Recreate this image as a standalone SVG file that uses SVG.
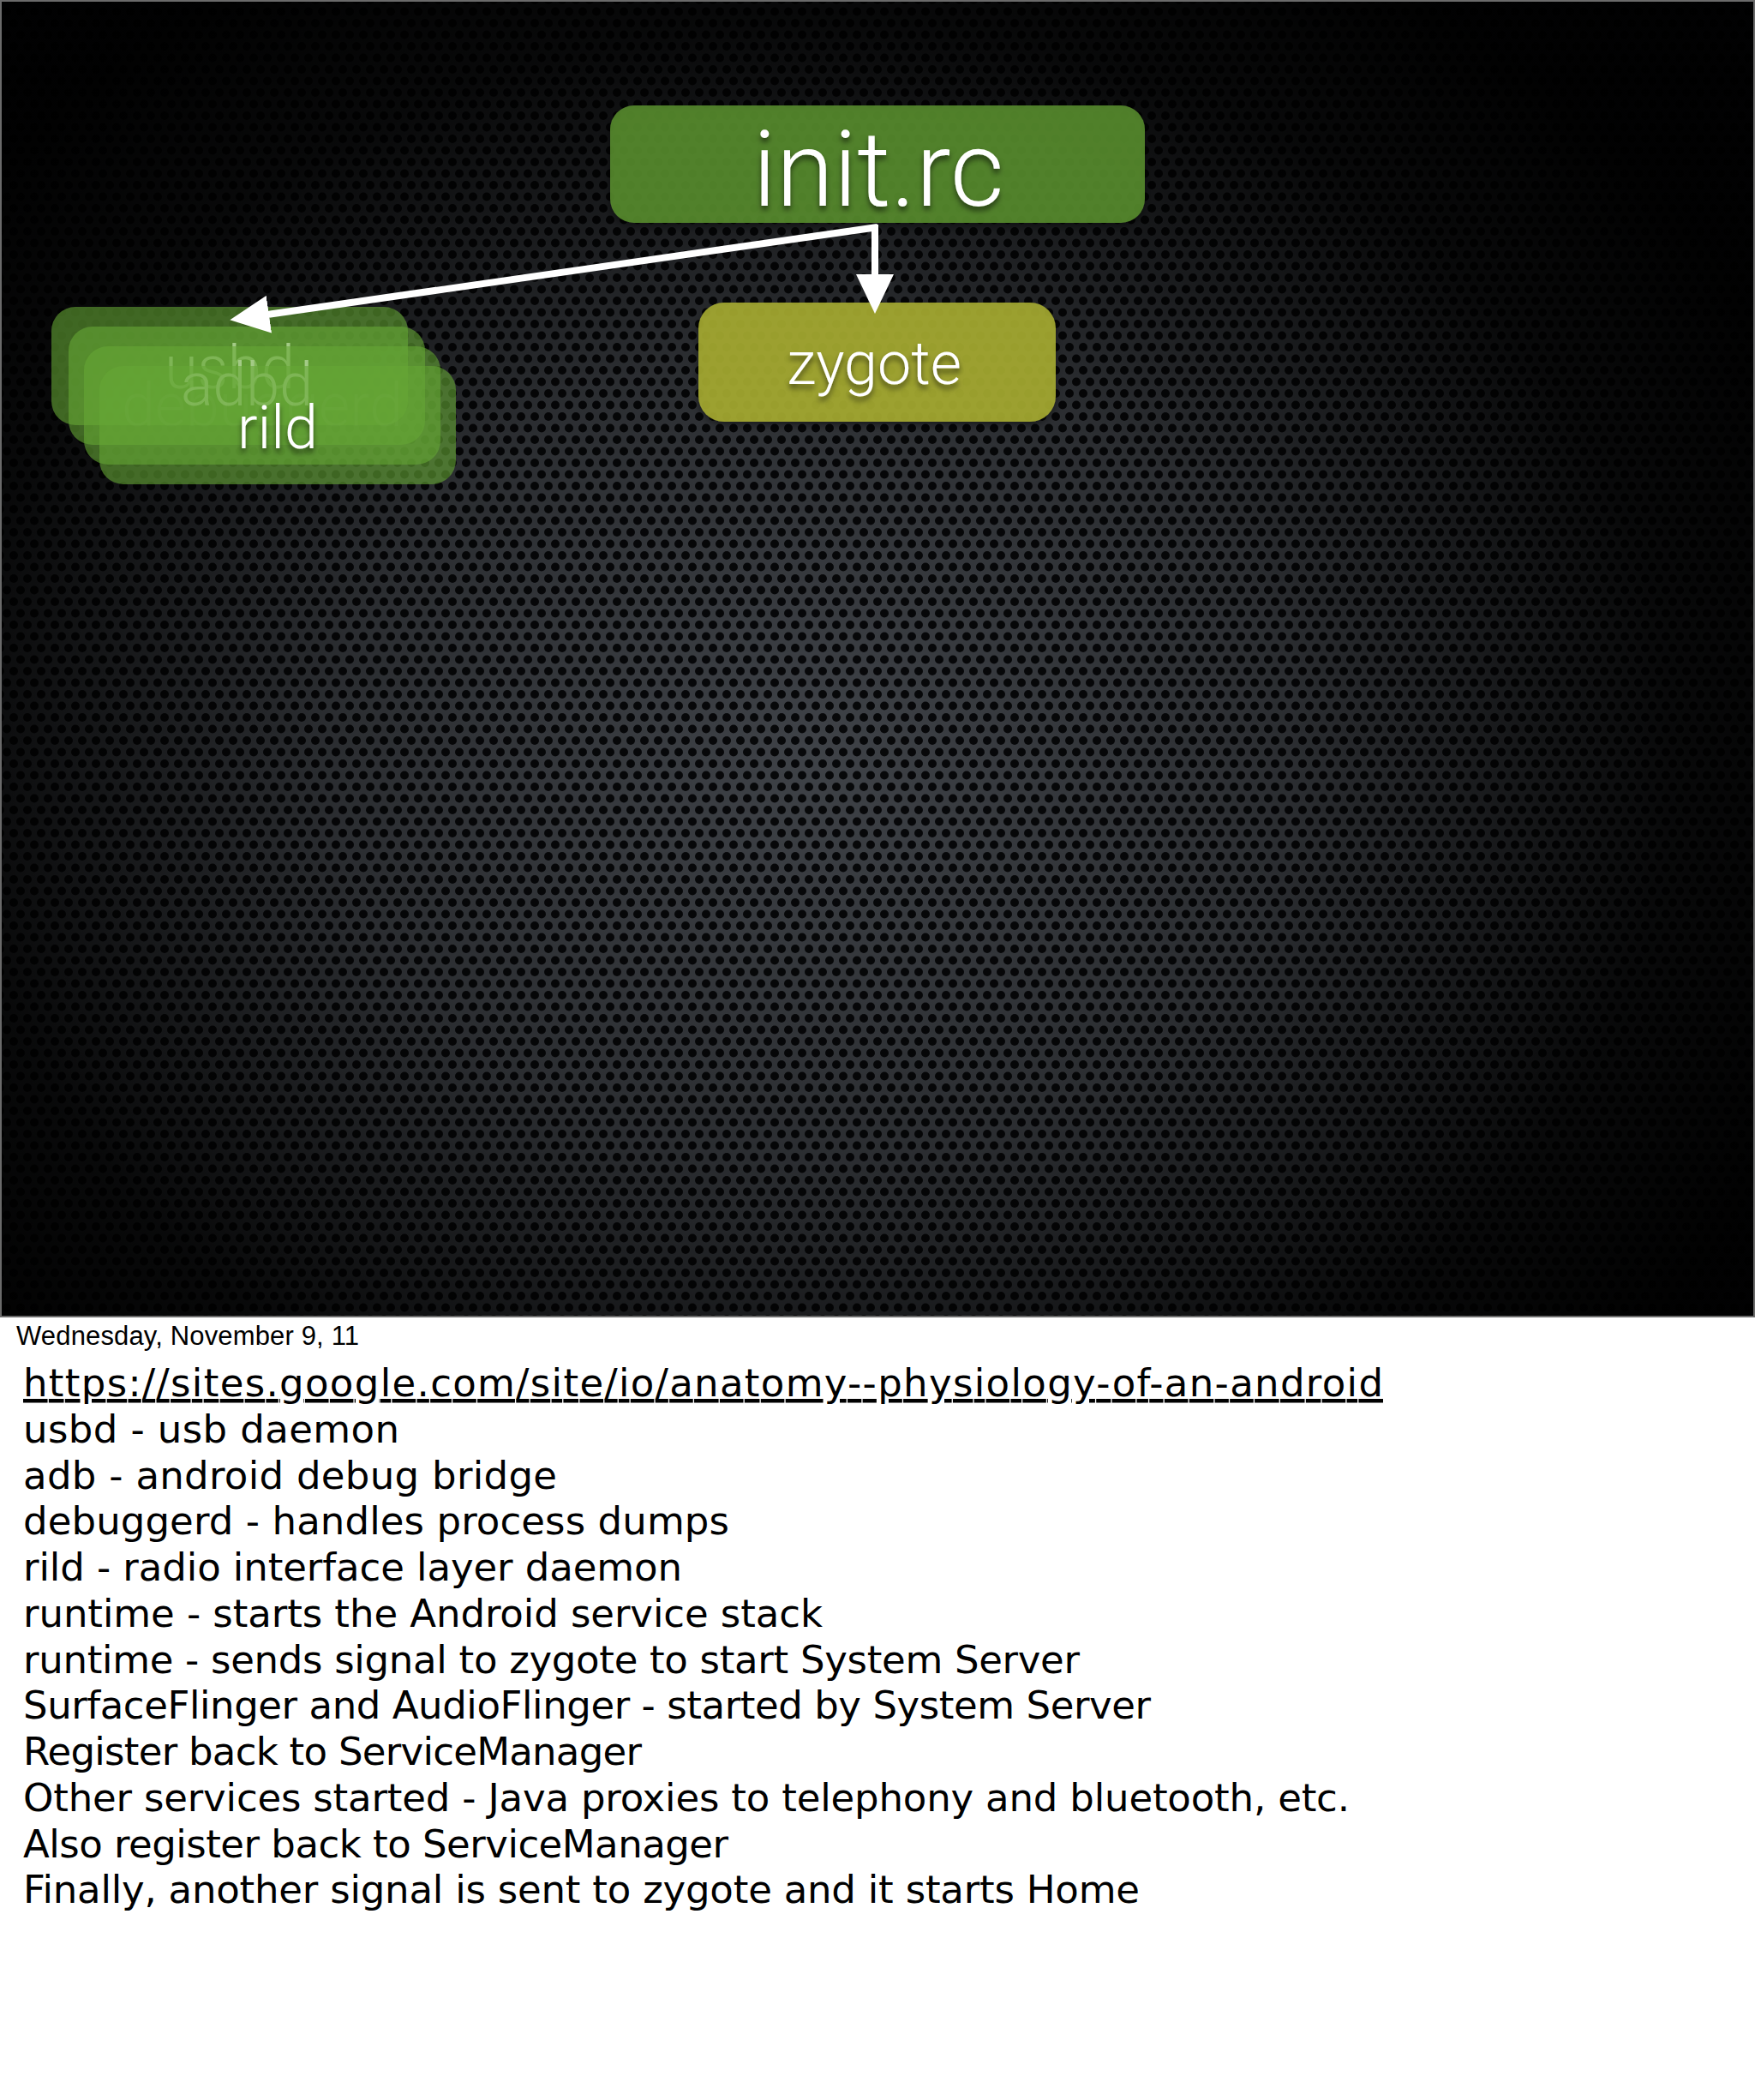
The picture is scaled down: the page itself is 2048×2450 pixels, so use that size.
<svg xmlns="http://www.w3.org/2000/svg" width="2048" height="2450" viewBox="0 0 2048 2450">
  <style>
    .node-label { font-family: Roboto, "Liberation Sans", sans-serif; font-weight: 300; fill: #ffffff; text-anchor: middle; }
    .note { font-family: "DejaVu Sans", sans-serif; font-size: 45px; fill: #000000; }
    .date { font-family: "Liberation Sans", Arial, sans-serif; font-size: 31px; fill: #000000; }
    .conn { stroke: #ffffff; stroke-width: 8; fill: none; stroke-linejoin: miter; }
    .svc { fill: #66a735; fill-opacity: 0.6; }
  </style>
  <defs>
    <pattern id="mesh" width="16" height="27" patternUnits="userSpaceOnUse">
      <rect width="16" height="27" fill="#474b51"/>
      <circle cx="0" cy="0" r="5" fill="#08090b"/>
      <circle cx="16" cy="0" r="5" fill="#08090b"/>
      <circle cx="0" cy="27" r="5" fill="#08090b"/>
      <circle cx="16" cy="27" r="5" fill="#08090b"/>
      <circle cx="8" cy="13.5" r="5" fill="#08090b"/>
    </pattern>
    <radialGradient id="vignette" gradientUnits="userSpaceOnUse" cx="950" cy="880" r="1250" gradientTransform="translate(950 880) scale(1 0.85) translate(-950 -880)">
      <stop offset="0" stop-color="#000" stop-opacity="0.12"/>
      <stop offset="0.45" stop-color="#000" stop-opacity="0.4"/>
      <stop offset="0.8" stop-color="#000" stop-opacity="0.88"/>
      <stop offset="1" stop-color="#000" stop-opacity="0.98"/>
    </radialGradient>
    <filter id="tshadow" x="-20%" y="-20%" width="140%" height="160%">
      <feDropShadow dx="0" dy="5" stdDeviation="3" flood-color="#000" flood-opacity="0.55"/>
    </filter>
    <filter id="bshadow" x="-10%" y="-10%" width="120%" height="140%">
      <feDropShadow dx="0" dy="4" stdDeviation="4" flood-color="#000" flood-opacity="0.5"/>
    </filter>
    <marker id="head" markerUnits="userSpaceOnUse" markerWidth="46" markerHeight="44" viewBox="0 0 46 44" refX="16" refY="22" orient="auto">
      <path d="M0,0 L46,22 L0,44 z" fill="#ffffff"/>
    </marker>
  </defs>

  <!-- page -->
  <rect x="0" y="0" width="2048" height="2450" fill="#ffffff"/>

  <!-- slide background -->
  <rect x="0" y="0" width="2048" height="1536" fill="url(#mesh)"/>
  <rect x="0" y="0" width="2048" height="1536" fill="url(#vignette)"/>
  <rect x="1" y="1" width="2046" height="1535" fill="none" stroke="#6a6a6a" stroke-width="2"/>

  <!-- nodes -->
  <g id="node-init-rc">
    <rect x="712" y="123" width="624" height="137" rx="28" fill="#5a8f2f" fill-opacity="0.85" filter="url(#bshadow)"/>
    <text class="node-label" x="1025" y="240" font-size="122" filter="url(#tshadow)">init.rc</text>
  </g>

  <g id="node-zygote">
    <rect x="815" y="353" width="417" height="139" rx="30" fill="#a8ad30" fill-opacity="0.88" filter="url(#bshadow)"/>
    <text class="node-label" x="1020" y="448" font-size="70" filter="url(#tshadow)">zygote</text>
  </g>

  <g id="node-usbd">
    <rect class="svc" x="60" y="358" width="416" height="138" rx="28"/>
    <text class="node-label" x="268" y="453" font-size="70">usbd</text>
  </g>

  <g id="node-adbd">
    <rect class="svc" x="80" y="381" width="416" height="138" rx="28"/>
    <text class="node-label" x="288" y="473" font-size="70">adbd</text>
  </g>

  <g id="node-debuggerd">
    <rect class="svc" x="98" y="404" width="416" height="138" rx="28"/>
    <text class="node-label" x="306" y="497" font-size="70" fill-opacity="0.05">debuggerd</text>
  </g>

  <g id="node-rild">
    <rect class="svc" x="116" y="427" width="416" height="138" rx="28"/>
    <text class="node-label" x="324" y="523" font-size="70" filter="url(#tshadow)">rild</text>
  </g>

  <!-- connectors -->
  <g id="connectors">
    <path class="conn" d="M1021,262 L1021,336" marker-end="url(#head)"/>
    <path class="conn" d="M1024,265 L298,369" marker-end="url(#head)"/>
  </g>

  <!-- footer / notes -->
  <text class="date" x="19" y="1569" textLength="400" lengthAdjust="spacing">Wednesday, November 9, 11</text>

  <g id="notes">
    <text class="note" x="27" y="1629" text-decoration="underline" textLength="1587" lengthAdjust="spacing">https://sites.google.com/site/io/anatomy--physiology-of-an-android</text>
    <text class="note" x="27" y="1683" textLength="439" lengthAdjust="spacing">usbd - usb daemon</text>
    <text class="note" x="27" y="1737" textLength="623" lengthAdjust="spacing">adb - android debug bridge</text>
    <text class="note" x="27" y="1790" textLength="824" lengthAdjust="spacing">debuggerd - handles process dumps</text>
    <text class="note" x="27" y="1844" textLength="769" lengthAdjust="spacing">rild - radio interface layer daemon</text>
    <text class="note" x="27" y="1898" textLength="933" lengthAdjust="spacing">runtime - starts the Android service stack</text>
    <text class="note" x="27" y="1952" textLength="1233" lengthAdjust="spacing">runtime - sends signal to zygote to start System Server</text>
    <text class="note" x="27" y="2005" textLength="1316" lengthAdjust="spacing">SurfaceFlinger and AudioFlinger - started by System Server</text>
    <text class="note" x="27" y="2059" textLength="722" lengthAdjust="spacing">Register back to ServiceManager</text>
    <text class="note" x="27" y="2113" textLength="1548" lengthAdjust="spacing">Other services started - Java proxies to telephony and bluetooth, etc.</text>
    <text class="note" x="27" y="2167" textLength="823" lengthAdjust="spacing">Also register back to ServiceManager</text>
    <text class="note" x="27" y="2220" textLength="1303" lengthAdjust="spacing">Finally, another signal is sent to zygote and it starts Home</text>
  </g>
</svg>
